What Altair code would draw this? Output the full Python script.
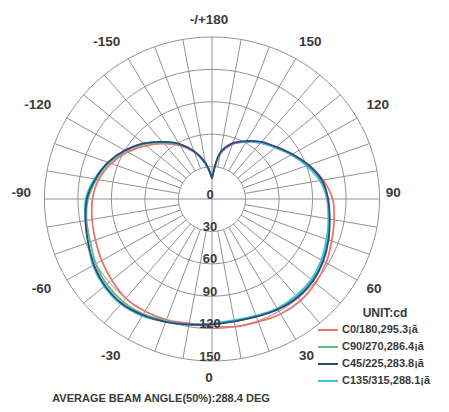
import altair as alt
import pandas as pd

# ---- data ----
angles = list(range(-180, 181, 10))
series_names = ["C0/180,295.3¡ã", "C90/270,286.4¡ã", "C45/225,283.8¡ã", "C135/315,288.1¡ã"]
series_colors = ["#e8766c", "#5cbf80", "#34467f", "#3cc3d6"]
draw_order = [0, 1, 3, 2]

c0_180 = [20, 33, 46, 57, 67, 77, 87, 96, 103, 107, 109, 111, 114, 117, 120, 120, 119, 117,
          118, 120, 121, 123, 123, 121, 118, 114, 111, 108, 101, 92, 83, 75, 68, 61, 54, 42, 20]
c90_270 = [20, 34, 47, 58, 68, 79, 89, 98, 105, 111, 114, 116, 120, 123, 124, 123, 120, 118,
           116, 115, 116, 117, 118, 117, 114, 110, 106, 103, 99, 91, 82, 74, 68, 61, 55, 43, 20]
c45_225 = [19, 34, 47, 59, 69, 80, 90, 99, 106, 112, 115, 118, 122, 125, 126, 124, 121, 118,
           116, 115, 116, 118, 119, 118, 115, 111, 107, 104, 100, 92, 83, 75, 69, 62, 55, 44, 19]
c135_315 = [20, 33, 47, 59, 69, 80, 90, 99, 107, 113, 115, 118, 123, 126, 127, 125, 121, 118,
            115, 114, 115, 117, 117, 116, 113, 109, 106, 103, 98, 90, 82, 74, 68, 61, 55, 43, 20]
series_values = [c0_180, c90_270, c45_225, c135_315]

ring_values = [30, 60, 90, 120, 150]
radial_labels = [0, 30, 60, 90, 120, 150]
angle_ticks = [0, 30, 60, 90, 120, 150, 180, -150, -120, -90, -60, -30]
angle_texts = ["0", "30", "60", "90", "120", "150", "-/+180", "-150", "-120", "-90", "-60", "-30"]
unit_text = "UNIT:cd"
title_text = "AVERAGE BEAM ANGLE(50%):288.4 DEG"

# ---- tables ----
curves = pd.DataFrame(
    [{"series": s, "a": a, "r": v, "k": draw_order.index(i)}
     for i, (s, vals) in enumerate(zip(series_names, series_values))
     for a, v in zip(angles, vals)]
).sort_values(["k", "a"]).reset_index(drop=True)
rings = pd.DataFrame([{"ring": r, "a": t} for r in ring_values for t in range(0, 361, 3)])
spokes = pd.DataFrame([{"a": a} for a in range(-170, 181, 10)])
rlabels = pd.DataFrame({"v": radial_labels})
alabels = pd.DataFrame({"a": angle_ticks, "txt": angle_texts})
legend = pd.DataFrame({"series": series_names, "i": list(range(len(series_names)))})

W, H = 433, 396
xs = alt.Scale(domain=[-182.6, 205.0], nice=False, zero=False)
ys = alt.Scale(domain=[-189.8, 176.85], nice=False, zero=False)
GRID = "#929292"
TXT = "#3a3a3a"
FONT = "Liberation Sans"
color_scale = alt.Scale(domain=series_names, range=series_colors)

X = "datum.r * sin(datum.a * PI / 180)"
Y = "-datum.r * cos(datum.a * PI / 180)"

ring_layer = alt.Chart(rings).transform_calculate(
    r="datum.ring"
).transform_calculate(x=X, y=Y).mark_line(color=GRID, strokeWidth=1).encode(
    x=alt.X("x:Q", scale=xs, axis=None),
    y=alt.Y("y:Q", scale=ys, axis=None),
    detail="ring:N",
    order="a:Q",
)

spoke_layer = alt.Chart(spokes).transform_calculate(
    r0="datum.a % 90 == 0 ? 0 : 30", r1="150"
).transform_calculate(
    x0="datum.r0 * sin(datum.a * PI / 180)",
    y0="-datum.r0 * cos(datum.a * PI / 180)",
    x1="datum.r1 * sin(datum.a * PI / 180)",
    y1="-datum.r1 * cos(datum.a * PI / 180)",
).mark_rule(color=GRID, strokeWidth=1).encode(
    x=alt.X("x0:Q", scale=xs, axis=None),
    y=alt.Y("y0:Q", scale=ys, axis=None),
    x2="x1:Q",
    y2="y1:Q",
)

curve_layer = alt.Chart(curves).transform_calculate(x=X, y=Y).mark_line(
    strokeWidth=1.8, interpolate="catmull-rom"
).encode(
    x=alt.X("x:Q", scale=xs, axis=None),
    y=alt.Y("y:Q", scale=ys, axis=None),
    color=alt.Color("series:N", scale=color_scale, legend=None),
    detail="k:N",
    order="a:Q",
)

rlabel_layer = alt.Chart(rlabels).transform_calculate(
    x="0", y="-datum.v"
).mark_text(font=FONT, fontSize=13, fontWeight="bold", color=TXT, dx=-2, dy=-4.5, baseline="middle").encode(
    x=alt.X("x:Q", scale=xs, axis=None),
    y=alt.Y("y:Q", scale=ys, axis=None),
    text="v:N",
)

alabel_layer = alt.Chart(alabels).transform_calculate(
    s="sin(datum.a * PI / 180)", c="cos(datum.a * PI / 180)"
).transform_calculate(
    rx="165 + 15 * abs(datum.c) - 4 * datum.c + (datum.a < 0 ? 3 * abs(datum.s) : 0)",
    ry="166 + 6 * datum.s * datum.s",
).transform_calculate(
    x="datum.rx * datum.s",
    y="-datum.ry * datum.c + 5.5 * pow(datum.s, 8)",
).mark_text(
    font=FONT, fontSize=13.5, fontWeight="bold", color=TXT, dx=-3, baseline="middle"
).encode(
    x=alt.X("x:Q", scale=xs, axis=None),
    y=alt.Y("y:Q", scale=ys, axis=None),
    text="txt:N",
)

legend_lines = alt.Chart(legend).transform_calculate(
    ly="322 + 17 * datum.i", lx0="310", lx1="330"
).mark_rule(strokeWidth=2).encode(
    x=alt.X("lx0:Q", scale=None),
    x2="lx1:Q",
    y=alt.Y("ly:Q", scale=None),
    color=alt.Color("series:N", scale=color_scale, legend=None),
)

legend_text = alt.Chart(legend).transform_calculate(
    ly="322 + 17 * datum.i", lx="334"
).mark_text(font=FONT, fontSize=11, fontWeight="bold", color=TXT, align="left", baseline="middle").encode(
    x=alt.X("lx:Q", scale=None),
    y=alt.Y("ly:Q", scale=None),
    text="series:N",
)

unit_layer = alt.Chart(pd.DataFrame({"t": [unit_text]})).mark_text(
    font=FONT, fontSize=12, fontWeight="bold", color=TXT, align="center", baseline="middle"
).encode(x=alt.value(377), y=alt.value(305), text="t:N")

title_layer = alt.Chart(pd.DataFrame({"t": [title_text]})).mark_text(
    font=FONT, fontSize=11, fontWeight="bold", color=TXT, align="center", baseline="alphabetic"
).encode(x=alt.value(153), y=alt.value(393.5), text="t:N")

chart = alt.layer(
    ring_layer, spoke_layer, curve_layer, rlabel_layer, alabel_layer,
    legend_lines, legend_text, unit_layer, title_layer
).properties(
    width=W, height=H, autosize=alt.AutoSizeParams(type="none"), padding=0
).configure_view(stroke=None)

chart.save("out.html", embed_options={"renderer": "svg", "actions": False})
